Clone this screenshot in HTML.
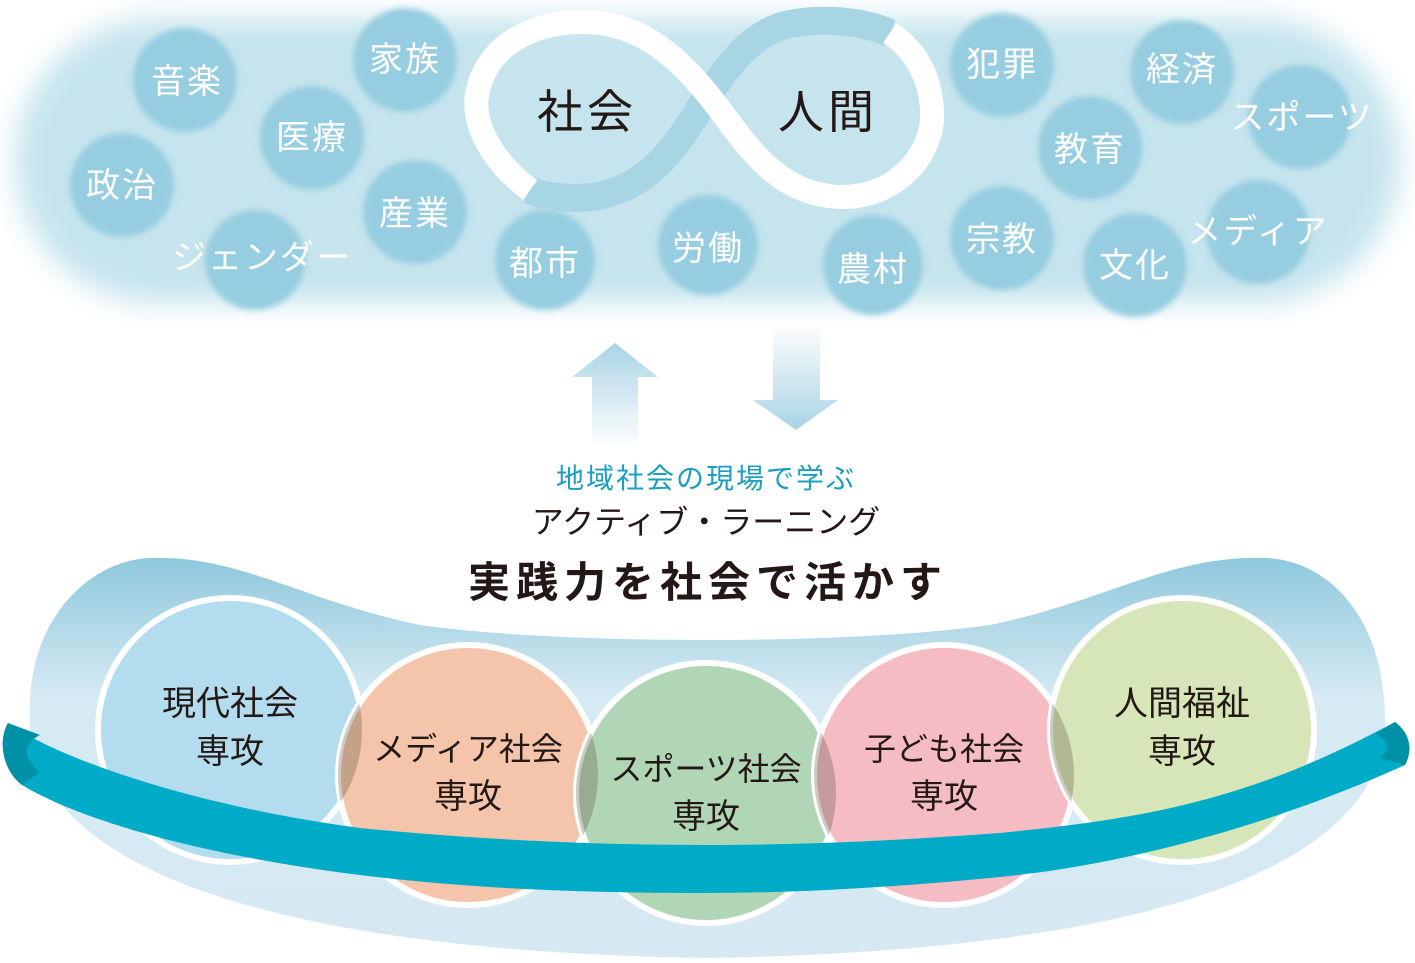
<!DOCTYPE html>
<html><head><meta charset="utf-8"><style>
body{margin:0;background:#fff}
svg{display:block}
text{font-family:"Liberation Sans","Noto Sans CJK JP",sans-serif}
</style></head><body>
<svg width="1415" height="963" viewBox="0 0 1415 963" xmlns="http://www.w3.org/2000/svg">
<defs>
<filter id="b1" x="-10%" y="-30%" width="120%" height="160%"><feGaussianBlur stdDeviation="14"/></filter>
<filter id="b2" x="-20%" y="-20%" width="140%" height="140%"><feGaussianBlur stdDeviation="3"/></filter>
<linearGradient id="up" x1="0" y1="1" x2="0" y2="0"><stop offset="0" stop-color="#fff"/><stop offset="1" stop-color="#a9d3e4"/></linearGradient>
<linearGradient id="dn" x1="0" y1="0" x2="0" y2="1"><stop offset="0" stop-color="#fff"/><stop offset="1" stop-color="#a9d3e4"/></linearGradient>
<linearGradient id="blob" x1="0" y1="0" x2="0" y2="1"><stop offset="0" stop-color="#8fc8dd"/><stop offset="0.35" stop-color="#d6eaf3"/><stop offset="1" stop-color="#d6e9f3"/></linearGradient>
<clipPath id="c1"><circle cx="230" cy="730" r="132"/></clipPath>
<clipPath id="c2"><circle cx="468" cy="775" r="130"/></clipPath>
<clipPath id="c3"><circle cx="706" cy="793" r="130"/></clipPath>
<clipPath id="c4"><circle cx="944" cy="775" r="130"/></clipPath>
</defs>

<!-- top cloud -->
<rect x="15" y="18" width="1385" height="285" rx="145" fill="#c5e4ed" filter="url(#b1)"/>
<g fill="#96cde0" filter="url(#b2)">
<circle cx="185" cy="80" r="52"/><circle cx="405" cy="60" r="52"/><circle cx="312" cy="138" r="52"/>
<circle cx="122" cy="185" r="52"/><circle cx="415" cy="212" r="52"/><circle cx="255" cy="260" r="50"/>
<circle cx="545" cy="260" r="50"/><circle cx="708" cy="245" r="50"/><circle cx="873" cy="265" r="50"/>
<circle cx="1002" cy="65" r="52"/><circle cx="1182" cy="72" r="52"/><circle cx="1300" cy="117" r="52"/>
<circle cx="1090" cy="148" r="52"/><circle cx="1002" cy="238" r="52"/><circle cx="1135" cy="265" r="52"/><circle cx="1258" cy="232" r="52"/>
</g>
<g fill="#fff" font-size="34" text-anchor="middle" letter-spacing="2">
<text x="187" y="93">音楽</text><text x="405" y="71">家族</text><text x="312" y="149">医療</text>
<text x="122" y="197">政治</text><text x="415" y="225">産業</text><text x="262" y="269">ジェンダー</text>
<text x="545" y="275">都市</text><text x="708" y="260">労働</text><text x="873" y="281">農村</text>
<text x="1002" y="76">犯罪</text><text x="1182" y="81">経済</text><text x="1302" y="129">スポーツ</text>
<text x="1090" y="161">教育</text><text x="1002" y="251">宗教</text><text x="1135" y="277">文化</text><text x="1258" y="243">メディア</text>
</g>

<!-- infinity ribbon -->
<path d="M890,33 C860,20 820,18 790,24 C750,32 725,70 705,100 C680,140 650,195 580,198 C555,198 540,195 530,190" fill="none" stroke="#a8d5e3" stroke-width="28"/>
<path d="M530,190 C490,160 470,120 478,90 C490,40 540,20 590,22 C650,25 690,70 720,110 C750,150 780,195 840,197 C900,198 935,150 932,110 C930,75 915,50 890,33" fill="none" stroke="#fff" stroke-width="24"/>
<g fill="#231815" font-size="46" text-anchor="middle" letter-spacing="4">
<text x="587" y="128">社会</text><text x="828" y="128">人間</text>
</g>

<!-- arrows -->
<path d="M592,448 L592,377 L572,377 L615,343 L658,377 L638,377 L638,448Z" fill="url(#up)"/>
<path d="M773,323 L773,400 L753,400 L796,430 L838,400 L820,400 L820,323Z" fill="url(#dn)"/>

<!-- texts -->
<g text-anchor="middle">
<text x="706" y="488" font-size="28" fill="#1a9fc0" letter-spacing="2">地域社会の現場で学ぶ</text>
<text x="706" y="533" font-size="32" fill="#231815">アクティブ・ラーニング</text>
<text x="708" y="597" font-size="42" font-weight="bold" fill="#231815" letter-spacing="6">実践力を社会で活かす</text>
</g>

<!-- bottom blob -->
<path d="M30,720 C25,620 90,560 150,558 C240,555 300,600 420,625 C560,645 850,645 990,625 C1110,600 1170,555 1265,558 C1330,560 1385,620 1385,720 C1385,850 1200,950 706,958 C220,950 30,850 30,720Z" fill="url(#blob)"/>

<!-- circles -->
<g stroke="#fff" stroke-width="6">
<circle cx="230" cy="730" r="132" fill="#b3dcef"/>
<circle cx="468" cy="775" r="130" fill="#f4c4ab"/>
<circle cx="706" cy="793" r="130" fill="#b0d6b6"/>
<circle cx="944" cy="775" r="130" fill="#f5bcc4"/>
<circle cx="1182" cy="730" r="132" fill="#d6e6b9"/>
</g>
<g fill="#5a5040" fill-opacity="0.3">
<circle cx="468" cy="775" r="130" clip-path="url(#c1)"/>
<circle cx="706" cy="793" r="130" clip-path="url(#c2)"/>
<circle cx="944" cy="775" r="130" clip-path="url(#c3)"/>
<circle cx="1182" cy="730" r="132" clip-path="url(#c4)"/>
</g>

<!-- ring front -->
<path d="M8,723 C60,760 200,807 360,828 C480,840 600,845 706,845 C830,845 930,838 1000,833 C1150,818 1250,800 1395,722 C1412,735 1412,752 1405,765 C1300,813 1150,862 1000,877 C900,887 800,893 706,893 C600,893 480,890 360,875 C200,855 80,820 22,785 C2,770 -2,740 8,723Z" fill="#00abc8"/>
<path d="M8,723 C-2,740 2,770 22,785 L40,772 C25,760 20,745 40,735Z" fill="#0090a8"/>
<path d="M1395,722 C1412,735 1412,752 1405,765 L1380,758 C1390,750 1390,740 1375,734Z" fill="#0090a8"/>

<g fill="#231815" font-size="34" text-anchor="middle">
<text x="230" y="715">現代社会</text><text x="230" y="763">専攻</text>
<text x="468" y="760" font-size="32">メディア社会</text><text x="468" y="808">専攻</text>
<text x="706" y="780" font-size="32">スポーツ社会</text><text x="706" y="828">専攻</text>
<text x="944" y="760" font-size="32">子ども社会</text><text x="944" y="808">専攻</text>
<text x="1182" y="715">人間福祉</text><text x="1182" y="763">専攻</text>
</g>
</svg>
</body></html>
